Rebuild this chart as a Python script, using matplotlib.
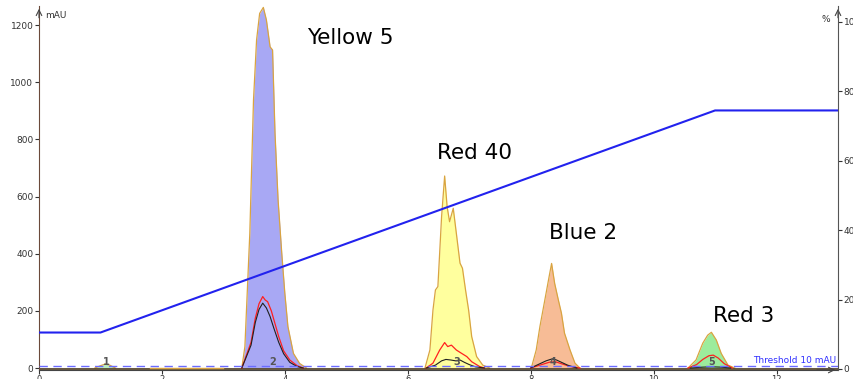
"""
Flash chromatography trace of food dyes: absorbance peaks plus gradient profile
"""
import matplotlib
matplotlib.use("Agg")
import matplotlib.pyplot as plt

# ---- data ----
# gradient (% solvent B) vs column volumes
grad_cv = [0.0, 1.0, 11.0, 13.0]
grad_pct = [10.5, 10.5, 74.5, 74.5]

threshold_mau = 8

# peak 1 (tiny)
p1_cv = [0.91, 1.00, 1.08, 1.15, 1.24]
p1_mau = [0, 8, 14, 10, 0]

# peak 2 - Yellow 5
p2_cv = [3.30, 3.35, 3.43, 3.49, 3.54, 3.59, 3.65, 3.70, 3.76, 3.80, 3.84,
         3.89, 3.95, 4.00, 4.05, 4.14, 4.24, 4.35]
p2_mau = [0, 75, 472, 938, 1148, 1241, 1262, 1218, 1124, 1113, 821,
          588, 401, 261, 145, 51, 16, 0]
p2_red_cv = [3.30, 3.45, 3.52, 3.58, 3.64, 3.68, 3.72, 3.78, 3.82, 3.90, 3.98, 4.08, 4.20, 4.30]
p2_red = [0, 90, 175, 225, 250, 238, 232, 200, 170, 110, 60, 28, 8, 0]
p2_blk_cv = [3.30, 3.45, 3.52, 3.58, 3.64, 3.70, 3.76, 3.82, 3.90, 3.98, 4.08, 4.20, 4.30]
p2_blk = [0, 80, 160, 205, 227, 210, 180, 140, 90, 50, 20, 5, 0]

# peak 3 - Red 40
p3_cv = [6.28, 6.36, 6.41, 6.45, 6.49, 6.55, 6.60, 6.64, 6.68, 6.74, 6.79,
         6.85, 6.89, 6.94, 6.99, 7.04, 7.12, 7.22, 7.33]
p3_mau = [0, 63, 203, 273, 285, 529, 672, 565, 512, 559, 472,
          367, 349, 273, 203, 110, 40, 10, 0]
p3_red_cv = [6.30, 6.41, 6.52, 6.60, 6.65, 6.71, 6.79, 6.87, 6.96, 7.04, 7.17, 7.25]
p3_red = [0, 17, 63, 89, 75, 80, 63, 52, 40, 22, 5, 0]
p3_blk_cv = [6.30, 6.45, 6.55, 6.62, 6.70, 6.78, 6.85, 6.92, 7.00, 7.10, 7.25]
p3_blk = [0, 10, 25, 30, 28, 25, 28, 20, 12, 4, 0]

# peak 4 - Blue 2
p4_cv = [8.01, 8.09, 8.15, 8.20, 8.26, 8.30, 8.34, 8.39, 8.45, 8.50, 8.55, 8.64, 8.72, 8.80]
p4_mau = [0, 63, 145, 203, 273, 320, 366, 296, 238, 192, 122, 63, 17, 0]
p4_red_cv = [8.00, 8.15, 8.30, 8.40, 8.50, 8.65, 8.80]
p4_red = [0, 10, 20, 22, 15, 5, 0]
p4_blk_cv = [8.00, 8.15, 8.25, 8.35, 8.42, 8.50, 8.60, 8.75]
p4_blk = [0, 15, 25, 32, 28, 20, 10, 0]

# peak 5 - Red 3
p5_cv = [10.56, 10.69, 10.80, 10.88, 10.94, 11.02, 11.10, 11.21, 11.32]
p5_mau = [0, 28, 87, 115, 125, 98, 51, 10, 0]
p5_red_cv = [10.56, 10.70, 10.80, 10.90, 10.97, 11.05, 11.15, 11.28]
p5_red = [0, 12, 30, 43, 45, 35, 15, 0]
p5_blk_cv = [10.60, 10.80, 10.95, 11.10, 11.25]
p5_blk = [0, 3, 4, 3, 0]

peak_numbers = ["1", "2", "3", "4", "5"]
peak_number_cv = [1.10, 3.80, 6.79, 8.37, 10.94]

dye_names = ["Yellow 5", "Red 40", "Blue 2", "Red 3"]
dye_name_cv = [5.07, 7.08, 8.85, 11.47]
dye_name_mau = [1155, 752, 472, 182]

x_ticks = [0, 2, 4, 6, 8, 10, 12]
y_ticks = [0, 200, 400, 600, 800, 1000, 1200]
pct_ticks = [0, 20, 40, 60, 80, 100]

# ---- styling ----
OUTLINE = "#d9a441"
FILLS = ["#b8ecc0", "#a8a8f4", "#ffff9e", "#f7bc96", "#9cec9c"]

fig = plt.figure(figsize=(8.54, 3.79), dpi=100)
ax = fig.add_axes([39 / 854, 9 / 379, (838 - 39) / 854, 364 / 379])

peaks = [
    (p1_cv, p1_mau, None, None, None, None),
    (p2_cv, p2_mau, p2_red_cv, p2_red, p2_blk_cv, p2_blk),
    (p3_cv, p3_mau, p3_red_cv, p3_red, p3_blk_cv, p3_blk),
    (p4_cv, p4_mau, p4_red_cv, p4_red, p4_blk_cv, p4_blk),
    (p5_cv, p5_mau, p5_red_cv, p5_red, p5_blk_cv, p5_blk),
]

for fill, (px, py, rx, ry, bx, by) in zip(FILLS, peaks):
    ax.fill_between(px, py, 0, color=fill, lw=0, zorder=1)
    ax.plot(px, py, color=OUTLINE, lw=0.9, zorder=2)
    if rx is not None:
        ax.plot(rx, ry, color="#ff2020", lw=0.9, zorder=3)
        ax.plot(bx, by, color="#202020", lw=0.8, zorder=3)

# baseline
ax.axhline(-3, color="#4a3a1c", lw=1.2, zorder=2)
ax.plot([1.8, 3.0], [-1, -1], color="#d9a441", lw=1.0, zorder=2)

# threshold
ax.axhline(threshold_mau, color="#6b6bff", lw=1.0, ls=(0, (6, 4)), zorder=4)
ax.text(12.97, threshold_mau + 2, "Threshold 10 mAU", color="#3030ff",
        fontsize=6.5, ha="right", va="bottom", zorder=5)

for num, cv in zip(peak_numbers, peak_number_cv):
    ax.text(cv, 3, num, color="#555555", fontsize=7, fontweight="bold",
            ha="center", va="bottom", zorder=5)

for name, cv, mau in zip(dye_names, dye_name_cv, dye_name_mau):
    ax.text(cv, mau, name, fontsize=15.5, ha="center", va="center", color="black")

ax.set_xlim(0, 13)
ax.set_ylim(-7, 1267)
ax.set_xticks(x_ticks)
ax.set_yticks(y_ticks)
ax.tick_params(axis="both", labelsize=6.5, length=3, width=0.8,
               colors="#333333", pad=1)
ax.tick_params(axis="x", labelsize=6, pad=0.5)
for side in ["top", "right"]:
    ax.spines[side].set_visible(False)
ax.spines["left"].set_color("#6b4a3a")
ax.spines["bottom"].set_color("#444444")
ax.text(0.008, 0.985, "mAU", transform=ax.transAxes, fontsize=6.5,
        ha="left", va="top", color="#333333")

# gradient on secondary axis
ax2 = ax.twinx()
ax2.plot(grad_cv, grad_pct, color="#2222ee", lw=1.5, zorder=6)
ax2.set_ylim(-0.3, 104.6)
ax2.set_yticks(pct_ticks)
ax2.tick_params(axis="y", labelsize=6.5, length=3, width=0.8,
                colors="#333333", pad=1)
for side in ["top", "left", "bottom"]:
    ax2.spines[side].set_visible(False)
ax2.spines["right"].set_color("#555555")
ax2.text(0.99, 0.975, "%", transform=ax2.transAxes, fontsize=6.5,
         ha="right", va="top", color="#333333")

# axis arrows
arrow = dict(arrowstyle="->", color="#444444", lw=0.8)
ax.annotate("", xy=(0, 1.0), xytext=(0, 0.96), xycoords="axes fraction",
            arrowprops=arrow)
ax.annotate("", xy=(1, 1.0), xytext=(1, 0.96), xycoords="axes fraction",
            arrowprops=arrow)
ax.annotate("", xy=(1.0, 0), xytext=(0.97, 0), xycoords="axes fraction",
            arrowprops=arrow)

fig.savefig("out.png", dpi=100)
